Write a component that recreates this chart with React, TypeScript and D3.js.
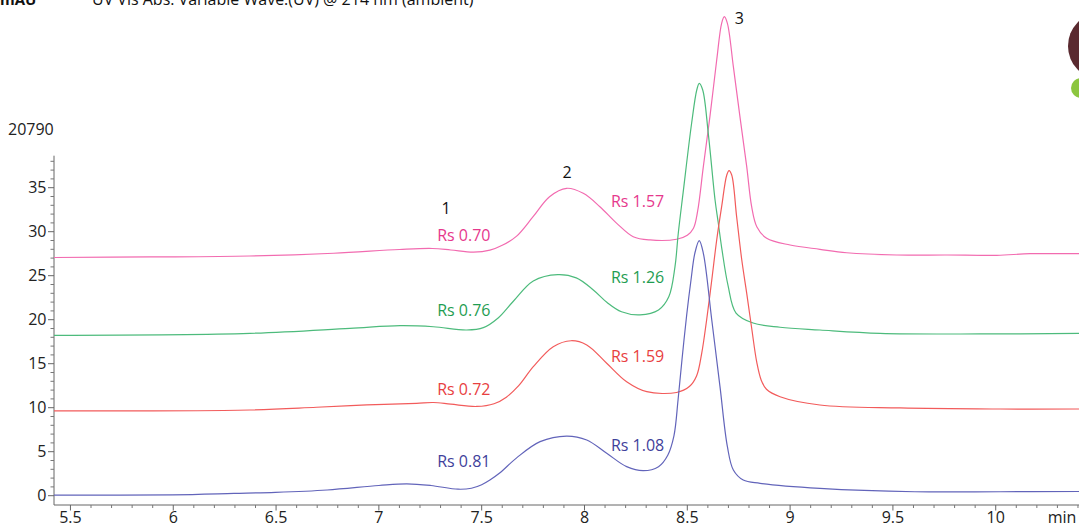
import React, { useEffect } from 'react';
import * as d3 from 'd3';

type Pt = [number, number];

// Retention time (min) / signal pairs (offset traces)
const pinkTrace: Pt[] = [
  [5.42, 27.07], [5.89, 27.13], [6.37, 27.24], [6.78, 27.55], [7.1, 27.98], [7.26, 28.09],
  [7.35, 27.92], [7.46, 27.68], [7.54, 27.9], [7.6, 28.45], [7.67, 29.5], [7.75, 31.7],
  [7.83, 33.98], [7.913, 34.93], [7.994, 34.36], [8.075, 32.84], [8.157, 30.95], [8.237, 29.43],
  [8.319, 29.06], [8.448, 29.14], [8.5, 29.6], [8.53, 30.4], [8.55, 32.3], [8.578, 37.39],
  [8.61, 43.07], [8.643, 49.51], [8.667, 53.68], [8.68, 54.43], [8.695, 53.68], [8.724, 48.75],
  [8.756, 43.07], [8.789, 37.39], [8.813, 32.84], [8.838, 30.57], [8.886, 29.25], [9.0, 28.49],
  [9.145, 28.0], [9.275, 27.61], [9.518, 27.35], [9.762, 27.35], [10.005, 27.32], [10.167, 27.5],
  [10.405, 27.5],
];

const greenTrace: Pt[] = [
  [5.42, 18.23], [6.373, 18.45], [6.859, 19.02], [7.103, 19.32], [7.265, 19.2], [7.427, 18.83],
  [7.508, 19.1], [7.58, 20.2], [7.654, 22.1], [7.751, 24.4], [7.87, 25.12], [7.96, 24.75],
  [8.043, 23.38], [8.11, 21.95], [8.18, 20.9], [8.27, 20.55], [8.36, 21.1], [8.41, 22.6],
  [8.44, 26.0], [8.456, 29.8], [8.48, 34.5], [8.521, 42.32], [8.546, 46.1], [8.558, 46.86],
  [8.575, 46.1], [8.602, 41.18], [8.635, 33.6], [8.65, 31.1], [8.669, 27.9], [8.698, 23.9],
  [8.737, 20.76], [8.82, 19.62], [8.951, 19.14], [9.145, 18.83], [9.437, 18.45], [9.924, 18.38],
  [10.405, 18.45],
];

const redTrace: Pt[] = [
  [5.42, 9.63], [6.373, 9.74], [6.697, 10.05], [6.941, 10.31], [7.183, 10.5], [7.265, 10.59],
  [7.35, 10.4], [7.476, 10.14], [7.56, 10.45], [7.62, 11.2], [7.68, 12.5], [7.751, 14.66],
  [7.848, 16.93], [7.935, 17.61], [8.011, 17.13], [8.108, 15.05], [8.205, 12.95], [8.303, 11.82],
  [8.448, 11.73], [8.51, 12.4], [8.545, 13.6], [8.57, 16.18], [8.594, 19.97], [8.619, 24.51],
  [8.643, 29.06], [8.667, 32.84], [8.692, 36.44], [8.703, 36.93], [8.716, 36.44], [8.74, 31.7],
  [8.765, 26.78], [8.789, 23.0], [8.813, 19.06], [8.838, 15.15], [8.86, 13.1], [8.885, 12.1],
  [8.951, 11.25], [9.145, 10.31], [9.535, 9.97], [10.021, 9.85], [10.405, 9.85],
];

const blueTrace: Pt[] = [
  [5.42, 0.06], [5.994, 0.1], [6.295, 0.26], [6.497, 0.38], [6.748, 0.65], [7.0, 1.16],
  [7.136, 1.35], [7.253, 1.16], [7.385, 0.74], [7.45, 0.85], [7.5, 1.25], [7.54, 1.78],
  [7.589, 2.6], [7.67, 4.3], [7.784, 6.14], [7.913, 6.78], [8.011, 6.33], [8.108, 4.82],
  [8.205, 3.3], [8.286, 2.84], [8.36, 3.3], [8.405, 4.6], [8.435, 6.8], [8.455, 10.88],
  [8.474, 15.42], [8.497, 20.53], [8.518, 24.51], [8.537, 27.58], [8.558, 28.98], [8.578, 27.55],
  [8.619, 19.97], [8.659, 12.39], [8.695, 5.57], [8.724, 2.92], [8.772, 1.78], [8.854, 1.41],
  [9.145, 0.84], [9.607, 0.45], [10.021, 0.45], [10.405, 0.48],
];

const seriesColors = ['#f26bb0', '#4dbb7c', '#f25b5b', '#6264ba'];
const labelColors = ['#e6388d', '#1f9d52', '#e8403f', '#3f419b'];

const xMajorTicks = [5.5, 6, 6.5, 7, 7.5, 8, 8.5, 9, 9.5, 10];
const xTickLabels = ['5.5', '6', '6.5', '7', '7.5', '8', '8.5', '9', '9.5', '10'];
const yMajorTicks = [0, 5, 10, 15, 20, 25, 30, 35];

const peakNames = ['1', '2', '3'];
const peakPos: Pt[] = [[7.327, 32.67], [7.915, 36.78], [8.753, 54.25]];

const rsLeftText = ['Rs 0.70', 'Rs 0.76', 'Rs 0.72', 'Rs 0.81'];
const rsLeftPos: Pt[] = [[7.413, 29.63], [7.413, 21.1], [7.413, 12.07], [7.413, 3.86]];
const rsRightText = ['Rs 1.57', 'Rs 1.26', 'Rs 1.59', 'Rs 1.08'];
const rsRightPos: Pt[] = [[8.258, 33.41], [8.258, 24.77], [8.258, 15.8], [8.258, 5.76]];

const FONT = "'Open Sans', 'Noto Sans', sans-serif";

export default function App() {
  useEffect(() => {
    document.body.style.margin = '0';
  }, []);

  const W = 1079;
  const H = 525;
  const x = d3.scaleLinear().domain([5.42, 10.405]).range([54, 1079]);
  const y = d3.scaleLinear().domain([0, 35]).range([495.7, 187.7]);
  const axisY = 505;
  const axisTop = 155.7;

  const line = d3
    .line<Pt>()
    .x((d) => x(d[0]))
    .y((d) => y(d[1]))
    .curve(d3.curveCatmullRom.alpha(0.5));

  const traces = [pinkTrace, greenTrace, redTrace, blueTrace];

  const xMinor = d3
    .range(54, 105)
    .map((i) => i / 10)
    .filter((v) => v >= 5.42 && v <= 10.405 && Math.abs(v * 2 - Math.round(v * 2)) > 1e-6);
  const yMinor = d3.range(0, 39).filter((v) => v % 5 !== 0);

  return (
    <svg
      width={W}
      height={H}
      style={{ position: 'absolute', left: 0, top: 0, display: 'block', background: '#fff' }}
      fontFamily={FONT}
    >
      {/* clipped header */}
      <text x={0} y={5} fontSize={15} fontWeight="bold" fill="#111">mAU</text>
      <text x={92} y={5} fontSize={16} fill="#111">UV Vis Abs. Variable Wave.(UV) @ 214 nm (ambient)</text>

      {/* logo fragment */}
      <ellipse cx={1100} cy={46} rx={32} ry={33} fill="#5a2a30" />
      <circle cx={1081} cy={88} r={12} fill="#ffffff" />
      <circle cx={1081} cy={88} r={10} fill="#8cc63f" />

      {/* scale label */}
      <text x={8} y={135} fontSize={16} fill="#222">20790</text>

      {/* y axis */}
      <line x1={54} x2={54} y1={axisTop} y2={axisY} stroke="#666" strokeWidth={1} />
      {yMinor.map((v) => (
        <line key={'ym' + v} x1={50.5} x2={54} y1={y(v)} y2={y(v)} stroke="#777" strokeWidth={1} />
      ))}
      {yMajorTicks.map((v) => (
        <g key={'y' + v}>
          <line x1={48} x2={54} y1={y(v)} y2={y(v)} stroke="#666" strokeWidth={1} />
          <text x={46.5} y={y(v)} dy="0.36em" textAnchor="end" fontSize={16} fill="#222">
            {v}
          </text>
        </g>
      ))}

      {/* x axis */}
      <line x1={54} x2={W} y1={axisY} y2={axisY} stroke="#666" strokeWidth={1} />
      {xMinor.map((v) => (
        <line key={'xm' + v} x1={x(v)} x2={x(v)} y1={axisY} y2={axisY + 3} stroke="#777" strokeWidth={1} />
      ))}
      {xMajorTicks.map((v, i) => (
        <g key={'x' + v}>
          <line x1={x(v)} x2={x(v)} y1={axisY} y2={axisY + 5.5} stroke="#666" strokeWidth={1} />
          <text x={x(v)} y={523} textAnchor="middle" fontSize={16} fill="#222">
            {xTickLabels[i]}
          </text>
        </g>
      ))}
      <text x={1062} y={523} textAnchor="middle" fontSize={16} fill="#222">min</text>

      {/* traces */}
      {traces.map((t, i) => (
        <path key={'tr' + i} d={line(t) || ''} fill="none" stroke={seriesColors[i]} strokeWidth={1.2} />
      ))}

      {/* peak numbers */}
      {peakNames.map((n, i) => (
        <text key={'pk' + i} x={x(peakPos[i][0])} y={y(peakPos[i][1])} dy="0.36em" textAnchor="middle" fontSize={16} fill="#111">
          {n}
        </text>
      ))}

      {/* resolution labels */}
      {rsLeftText.map((s, i) => (
        <text key={'rl' + i} x={x(rsLeftPos[i][0])} y={y(rsLeftPos[i][1])} dy="0.36em" textAnchor="middle" fontSize={16} fill={labelColors[i]}>
          {s}
        </text>
      ))}
      {rsRightText.map((s, i) => (
        <text key={'rr' + i} x={x(rsRightPos[i][0])} y={y(rsRightPos[i][1])} dy="0.36em" textAnchor="middle" fontSize={16} fill={labelColors[i]}>
          {s}
        </text>
      ))}
    </svg>
  );
}
